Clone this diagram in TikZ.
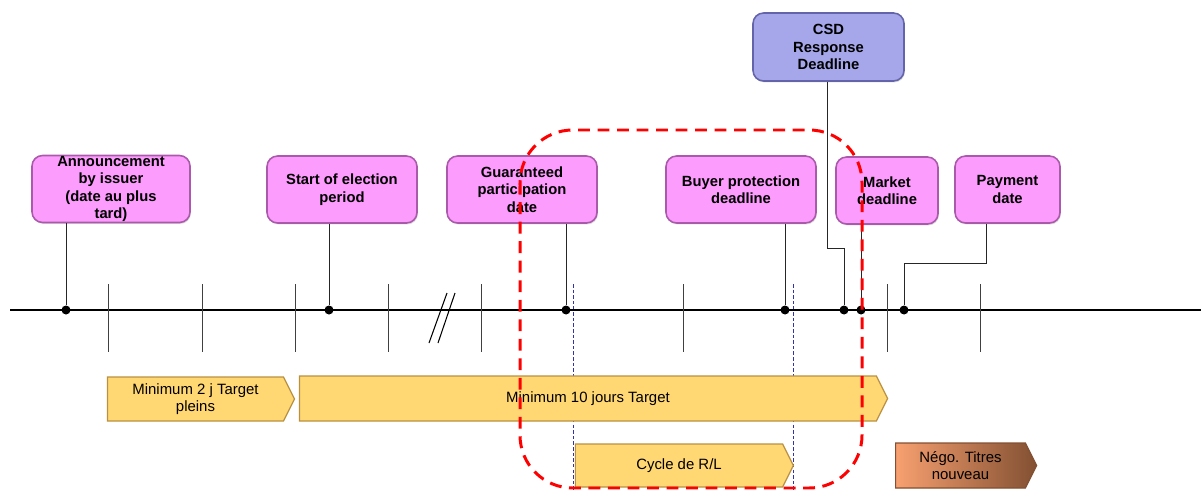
\documentclass[tikz,border=0pt]{standalone}
\usepackage{fontspec}
\setmainfont{Liberation Sans}
\usetikzlibrary{shapes.symbols, shadows}

\definecolor{boxpink}{RGB}{252,156,252}
\definecolor{boxpinkdark}{RGB}{170,90,170}
\definecolor{boxblue}{RGB}{166,166,234}
\definecolor{boxbluedark}{RGB}{100,100,170}
\definecolor{baryellow}{RGB}{255,215,115}
\definecolor{baryellowdark}{RGB}{185,145,65}
\definecolor{barorange}{RGB}{248,160,112}
\definecolor{barbrown}{RGB}{130,80,50}
\definecolor{rlblue}{RGB}{50,50,170}

\begin{document}
\begin{tikzpicture}
[
    x=0.2mm, y=-0.2mm,
    pink_node/.style={rectangle, rounded corners=6pt, draw=boxpinkdark, fill=boxpink, line width=0.9pt, minimum height=13.4mm, align=center, font=\fontsize{8.4}{9.9}\selectfont\bfseries, inner sep=1pt, drop shadow={opacity=0.3, shadow xshift=0.5pt, shadow yshift=-0.8pt}},
    blue_node/.style={pink_node, draw=boxbluedark, fill=boxblue},
    dot_node/.style={circle, fill=black, minimum size=1.8mm, inner sep=0pt},
    bar_node/.style={signal, signal to=east, signal pointer angle=127, draw=baryellowdark, fill=baryellow, line width=0.7pt, align=center, inner sep=1pt, font=\fontsize{8.5}{10}\selectfont},
    tick_line/.style={line width=0.5pt, color=black!75},
    link_line/.style={line width=0.5pt, color=black!85},
    rl_line/.style={line width=0.4pt, color=rlblue, dash pattern=on 2pt off 1.2pt},
    red_box/.style={line width=1.7pt, color=red, dash pattern=on 6.8pt off 4.3pt, rounded corners=30pt},
]
    \useasboundingbox (0,0) rectangle (1201,490) ;

    \foreach \x in {573,793}
        \draw[rl_line] (\x,284) -- (\x,490) ;

    \node[pink_node, minimum width=31.6mm, inner ysep=0pt] (announce) at (111,189) {Announcement\\by issuer\\(date au plus\\tard)} ;
    \node[pink_node, minimum width=30mm] (start) at (342,189.5) {Start of election\\period} ;
    \node[pink_node, minimum width=30mm] (guaranteed) at (522,189.5) {Guaranteed\\participation\\date} ;
    \node[pink_node, minimum width=30mm] (buyer) at (741,189.5) {Buyer protection\\deadline} ;
    \node[pink_node, minimum width=20.4mm] (market) at (887,190.5) {Market\\deadline} ;
    \node[pink_node, minimum width=21mm] (payment) at (1007.5,189.5) {Payment\\date} ;
    \node[blue_node, minimum width=30.2mm, minimum height=13.6mm] (csd) at (828.5,47) {CSD\\Response\\Deadline} ;

    \draw[line width=1.1pt, color=black] (10,310) -- (1201,310) ;
    \foreach \x in {108,202,295,388,481,683,887,980}
        \draw[tick_line] (\x,284) -- (\x,352) ;
    \draw[line width=0.6pt, color=black] (447,293) -- (429,343) ;
    \draw[line width=0.6pt, color=black] (455,293) -- (438,343) ;

    \node[dot_node] (d_announce) at (66,310) {} ;
    \node[dot_node] (d_start) at (329,310) {} ;
    \node[dot_node] (d_guaranteed) at (566,310) {} ;
    \node[dot_node] (d_buyer) at (785,310) {} ;
    \node[dot_node] (d_csd) at (844,310) {} ;
    \node[dot_node] (d_market) at (861,310) {} ;
    \node[dot_node] (d_payment) at (904,310) {} ;
    \coordinate (csd_bend) at (827,248) ;
    \coordinate (payment_bend) at (986,263) ;

    \draw[link_line] (d_announce |- announce.south) -- (d_announce) ;
    \draw[link_line] (d_start |- start.south) -- (d_start) ;
    \draw[link_line] (d_guaranteed |- guaranteed.south) -- (d_guaranteed) ;
    \draw[link_line] (d_buyer |- buyer.south) -- (d_buyer) ;
    \draw[link_line] (d_market |- market.south) -- (d_market) ;
    \draw[link_line] (csd_bend |- csd.south) -- (csd_bend) -| (d_csd) ;
    \draw[link_line] (payment_bend |- payment.south) -- (payment_bend) -| (d_payment) ;

    \node[bar_node, minimum width=37.4mm, minimum height=8.8mm] (min_two) at (195.5,399) {Minimum 2 j Target\\pleins} ;
    \node[bar_node, minimum width=117.6mm, minimum height=9mm] (min_ten) at (588,398.5) {Minimum 10 jours Target} ;
    \node[bar_node, minimum width=43.6mm, minimum height=8.6mm] (cycle) at (679,465.5) {Cycle de R/L} ;
    \node[bar_node, minimum width=28.2mm, minimum height=9mm, left color=barorange, right color=barbrown, draw=barbrown] (nego) at (960.5,465.5) {Négo. Titres\\nouveau} ;

    \draw[red_box] (520,130) rectangle (862,488) ;
\end{tikzpicture}
\end{document}
